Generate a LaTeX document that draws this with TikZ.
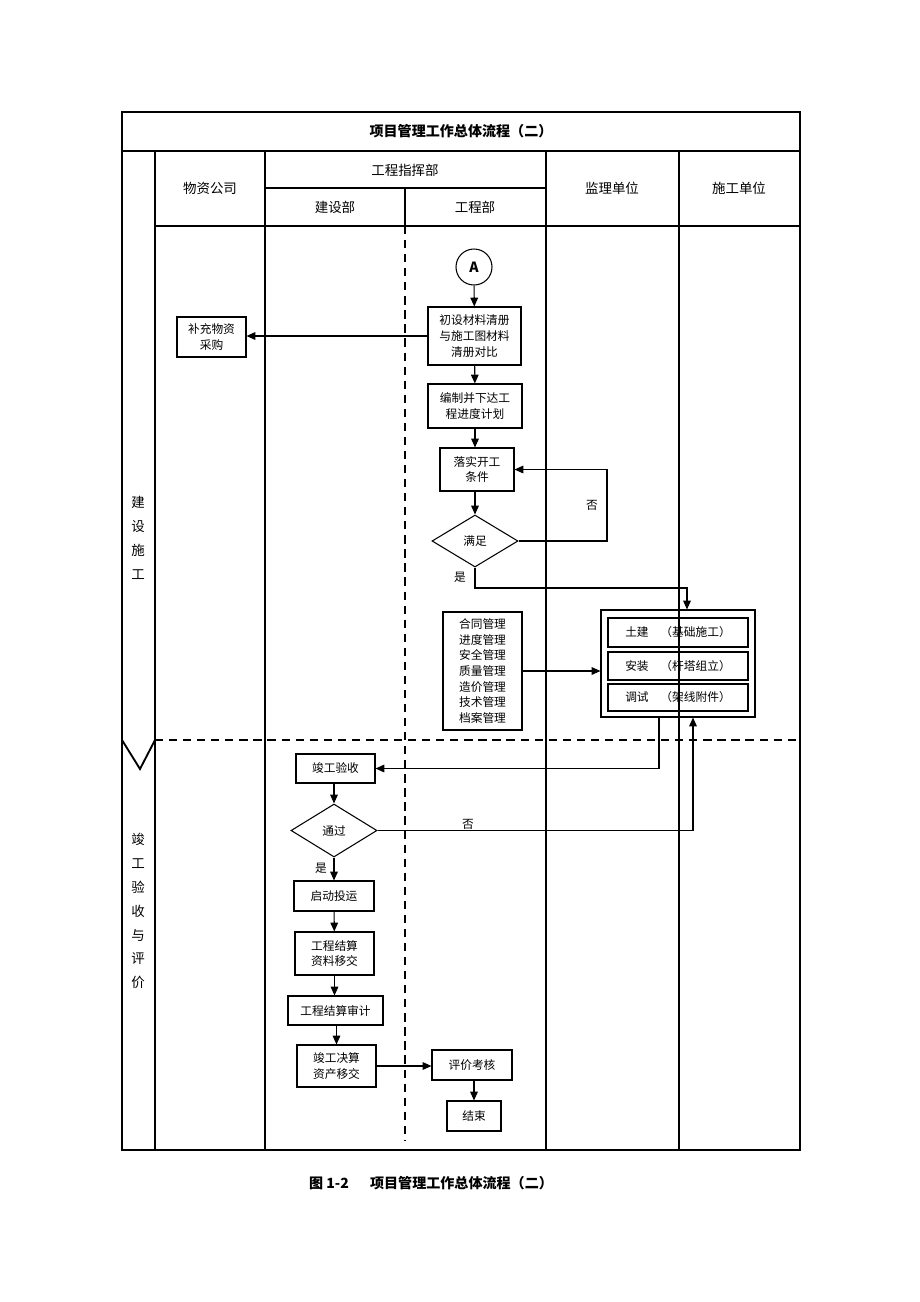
\documentclass[tikz,border=0pt]{standalone}
\usepackage{fontspec}
\setmainfont{Noto Sans CJK SC}
\usepackage{tikz}
\usetikzlibrary{arrows,arrows.meta,shapes.geometric}

\begin{document}
\begin{tikzpicture}[->,line width=0.9pt,>={Triangle[length=7.5pt,width=6.5pt]},x=0.03cm,y=-0.03cm]
    \tikzstyle{lane}=[-,line width=1.6pt]
    \tikzstyle{split}=[-,line width=1.6pt,dash pattern=on 7pt off 5pt]
    \tikzstyle{box}=[draw, rectangle, inner sep=0pt, align=center, font=\fontsize{10}{13.3}\selectfont]
    \tikzstyle{check}=[draw, diamond, inner sep=0pt, font=\fontsize{10}{12}\selectfont]
    \tikzstyle{head}=[font=\fontsize{11.5}{13}\selectfont]
    \tikzstyle{stage}=[align=center, font=\fontsize{11.5}{20.4}\selectfont]
    \tikzstyle{note}=[font=\fontsize{10}{12}\selectfont]

    \useasboundingbox (0,0) rectangle (920,1302);

    % frame and lanes
    \draw[lane] (122,112) rectangle (800,1150);
    \draw[lane] (122,151) -- (800,151);
    \draw[lane] (155,226) -- (800,226);
    \draw[lane] (265,188) -- (546,188);
    \draw[lane] (155,151) -- (155,1150);
    \draw[lane] (265,151) -- (265,1150);
    \draw[lane] (546,151) -- (546,1150);
    \draw[lane] (679,151) -- (679,1150);
    \draw[lane] (405,188) -- (405,226);
    \draw[split] (405,226) -- (405,1140);
    \draw[split] (155,740) -- (800,740);
    \draw[lane] (122,740) -- (140,769) -- (155,740);

    \node[font=\bfseries\fontsize{12}{14}\selectfont] (title) at (461,131) {项目管理工作总体流程（二）};
    \node[head] (wuzi)   at (210,188) {物资公司};
    \node[head] (zhihui) at (405,170) {工程指挥部};
    \node[head] (jianshe) at (335,207) {建设部};
    \node[head] (gongcheng) at (475,207) {工程部};
    \node[head] (jianli) at (612,188) {监理单位};
    \node[head] (shigong) at (739,188) {施工单位};
    \node[stage] (build) at (138,538) {建\\设\\施\\工};
    \node[stage] (accept) at (138,911) {竣\\工\\验\\收\\与\\评\\价};

    % construction stage
    \node[draw, circle, inner sep=0pt, minimum size=1.08cm, font=\bfseries\large] (A) at (474,267) {A};
    \node[box, minimum width=2.79cm, minimum height=1.74cm] (chushe) at (474.5,336) {初设材料清册\\与施工图材料\\清册对比};
    \node[box, minimum width=2.82cm, minimum height=1.32cm] (bianzhi) at (475,406) {编制并下达工\\程进度计划};
    \node[box, minimum width=2.22cm, minimum height=1.29cm] (luoshi) at (477,469.5) {落实开工\\条件};
    \node[check, minimum width=2.58cm, minimum height=1.56cm] (manzu) at (475,541) {满足};
    \node[box, minimum width=2.07cm, minimum height=1.2cm] (buchong) at (211.5,337) {补充物资\\采购};
    \node[box, minimum width=2.37cm, minimum height=3.54cm] (guanli) at (482.5,671) {合同管理\\进度管理\\安全管理\\质量管理\\造价管理\\技术管理\\档案管理};
    \node[draw, rectangle, minimum width=4.62cm, minimum height=3.21cm] (group) at (678,663.5) {};
    \node[box, minimum width=4.2cm, minimum height=0.87cm] (tujian) at (678,632.5) {土建\quad（基础施工）};
    \node[box, minimum width=4.2cm, minimum height=0.84cm] (anzhuang) at (678,666) {安装\quad（杆塔组立）};
    \node[box, minimum width=4.2cm, minimum height=0.81cm] (tiaoshi) at (678,697.5) {调试\quad（架线附件）};

    \node[note] (no1)  at (592,505) {否};
    \node[note] (yes1) at (460,577) {是};
    \coordinate (noturn) at (607,541);
    \coordinate (yesturn) at (475,588);
    \coordinate (yesend) at (687,588);

    \path
     (A) edge (chushe)
     (chushe) edge (bianzhi)
     (bianzhi.south) edge (bianzhi.south |- luoshi.north)
     (luoshi.south -| manzu.north) edge (manzu)
     (chushe.west) edge (chushe.west -| buchong.east)
     (guanli.east) edge (guanli.east -| group.west)
     ;
    \draw[->] (manzu.east) -- (noturn) |- (luoshi.east);
    \draw[->] (manzu.south) -- (yesturn) -- (yesend) -- (yesend |- group.north);

    % acceptance stage
    \node[box, minimum width=2.37cm, minimum height=0.87cm] (yanshou) at (335.5,768.5) {竣工验收};
    \node[check, minimum width=2.58cm, minimum height=1.59cm] (tongguo) at (334,830.5) {通过};
    \node[box, minimum width=2.4cm, minimum height=0.9cm] (qidong) at (334,896) {启动投运};
    \node[box, minimum width=2.37cm, minimum height=1.29cm] (jiesuan) at (334.5,953.5) {工程结算\\资料移交};
    \node[box, minimum width=2.85cm, minimum height=0.87cm] (shenji) at (335.5,1010.5) {工程结算审计};
    \node[box, minimum width=2.37cm, minimum height=1.26cm] (juesuan) at (336.5,1066) {竣工决算\\资产移交};
    \node[box, minimum width=2.4cm, minimum height=0.9cm] (pingjia) at (472,1065) {评价考核};
    \node[box, minimum width=1.62cm, minimum height=0.9cm] (jieshu) at (474,1116) {结束};

    \node[note] (no2)  at (468,824) {否};
    \node[note] (yes2) at (321,868) {是};
    \coordinate (doneturn) at (659,768.5);
    \coordinate (failturn) at (693,830.5);

    \path
     (yanshou.south -| tongguo.north) edge (tongguo)
     (tongguo) edge (qidong)
     (qidong) edge (jiesuan)
     (jiesuan) edge (jiesuan.south |- shenji.north)
     (shenji.south -| juesuan.north) edge (juesuan)
     (juesuan.east) edge (juesuan.east -| pingjia.west)
     (pingjia.south -| jieshu.north) edge (jieshu)
     ;
    \draw[->] (doneturn |- group.south) -- (doneturn) -- (yanshou.east);
    \draw[->] (tongguo.east) -- (failturn) -- (failturn |- group.south);

    \node[font=\bfseries\fontsize{12}{14}\selectfont] (capnum) at (329,1183) {图 1-2};
    \node[font=\bfseries\fontsize{12}{14}\selectfont] (captext) at (461.5,1183) {项目管理工作总体流程（二）};
\end{tikzpicture}
\end{document}
